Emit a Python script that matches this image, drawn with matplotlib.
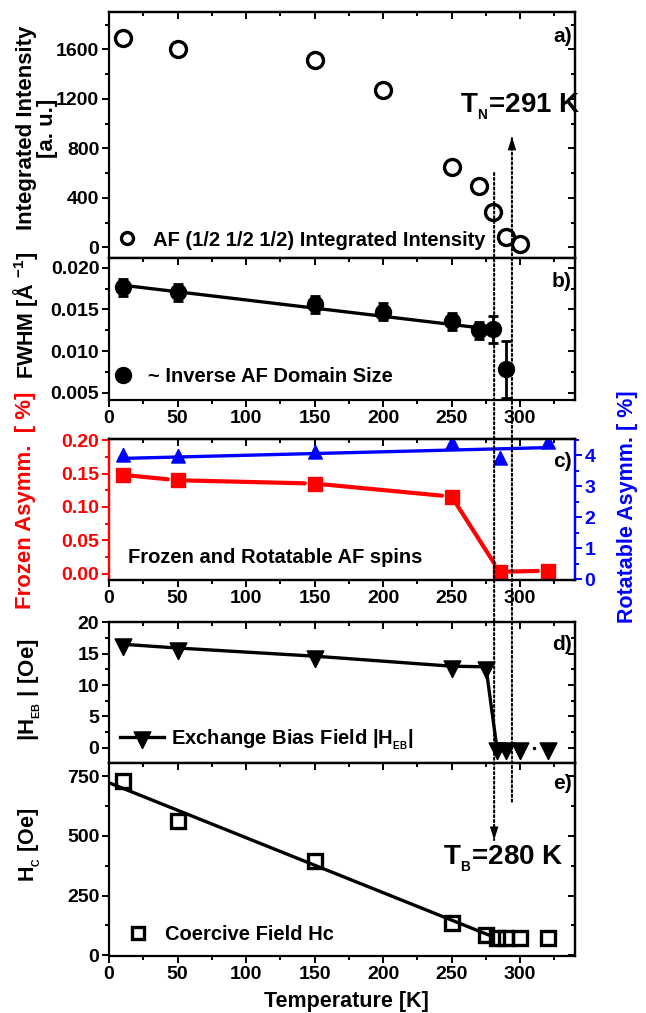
import numpy as np
import matplotlib
matplotlib.use("Agg")
import matplotlib.pyplot as plt
from matplotlib.patches import ConnectionPatch
from matplotlib.ticker import MultipleLocator, FormatStrFormatter

plt.rcParams['font.family'] = ['Liberation Sans', 'DejaVu Sans']
plt.rcParams['font.weight'] = 'bold'
plt.rcParams['axes.labelweight'] = 'bold'
plt.rcParams['mathtext.fontset'] = 'custom'
plt.rcParams['mathtext.rm'] = 'Liberation Sans:bold'
plt.rcParams['mathtext.bf'] = 'Liberation Sans:bold'
plt.rcParams['mathtext.default'] = 'bf'

# ---- data ----
# a) AF (1/2 1/2 1/2) integrated intensity
T_int = [10, 50, 150, 200, 250, 270, 280, 290, 300]
intensity = [1690, 1605, 1515, 1270, 648, 495, 288, 82, 30]

# b) FWHM ~ inverse AF domain size
T_fwhm = [10, 50, 150, 200, 250, 270, 280, 290]
fwhm = [0.01765, 0.01705, 0.01562, 0.01472, 0.01358, 0.01250, 0.01260, 0.00780]
fwhm_err = [0.0010, 0.0010, 0.0010, 0.0010, 0.0010, 0.0010, 0.00165, 0.0034]
T_fwhm_fit = [10, 280]
fwhm_fit = [0.0179, 0.0126]

# c) frozen / rotatable asymmetry
T_asym = [10, 50, 150, 250, 285, 320]
frozen = [0.148, 0.140, 0.135, 0.1155, 0.003, 0.0045]
rotatable = [3.93, 3.90, 4.05, 4.33, 3.83, 4.35]
T_rot_fit = [8, 320]
rot_fit = [3.89, 4.24]

# d) exchange bias field
T_heb = [10, 50, 150, 250, 275, 283, 290, 300, 320]
heb = [16.5, 15.9, 14.6, 13.0, 12.9, 0, 0, 0, 0]
T_heb_dot = [310]
heb_dot = [0]

# e) coercive field
T_hc = [10, 50, 150, 250, 275, 283, 290, 300, 320]
hc = [728, 560, 395, 134, 85, 72, 72, 72, 72]
T_hc_fit = [0, 280]
hc_fit = [722, 78]

# transition markers
T_B_line = 281
T_N_line = 294

# triangles with the centroid on the data point (Origin style)
tri_down = [(0, -4 / 3), (-1, 2 / 3), (1, 2 / 3), (0, -4 / 3)]
tri_up = [(0, 4 / 3), (-1, -2 / 3), (1, -2 / 3), (0, 4 / 3)]

FS = 14      # tick labels
FS_T = 14.5  # in-panel texts / legends
FS_L = 15.5  # axis labels
fig = plt.figure(figsize=(6.46, 10.13), dpi=100)
L, W = 0.1687, 0.7214
ax_a = fig.add_axes([L, 0.7450, W, 0.2428])
ax_b = fig.add_axes([L, 0.6051, W, 0.1399])
ax_c = fig.add_axes([L, 0.4274, W, 0.1389])
ax_d = fig.add_axes([L, 0.2471, W, 0.1392])
ax_e = fig.add_axes([L, 0.0563, W, 0.1908])


def style(ax, ymaj, ymin, xlabels=True, right=True):
    ax.set_xlim(0, 340)
    ax.xaxis.set_major_locator(MultipleLocator(50))
    ax.xaxis.set_minor_locator(MultipleLocator(25))
    ax.yaxis.set_major_locator(MultipleLocator(ymaj))
    ax.yaxis.set_minor_locator(MultipleLocator(ymin))
    for s in ax.spines.values():
        s.set_linewidth(1.6)
    ax.tick_params(which='both', direction='out', width=1.4, labelsize=FS,
                   top=False, right=False, labelbottom=xlabels, pad=2)
    ax.tick_params(which='major', length=5)
    ax.tick_params(which='minor', length=3)
    # mirrored ticks pointing inwards
    sx = ax.secondary_xaxis('top')
    sx.xaxis.set_major_locator(MultipleLocator(50))
    sx.xaxis.set_minor_locator(MultipleLocator(25))
    sx.tick_params(which='both', direction='in', labeltop=False, width=1.4)
    sx.tick_params(which='major', length=5)
    sx.tick_params(which='minor', length=3)
    sx.spines['top'].set_linewidth(1.6)
    if right:
        sy = ax.secondary_yaxis('right')
        sy.yaxis.set_major_locator(MultipleLocator(ymaj))
        sy.yaxis.set_minor_locator(MultipleLocator(ymin))
        sy.tick_params(which='both', direction='in', labelright=False, width=1.4)
        sy.tick_params(which='major', length=5)
        sy.tick_params(which='minor', length=3)
        sy.spines['right'].set_linewidth(1.6)


leg_prop = {'weight': 'bold', 'size': FS_T}

# ---- a) ----
ax_a.plot(T_int, intensity, 'o', mfc='none', mec='k', ms=11.5, mew=2.4,
          label='AF (1/2 1/2 1/2) Integrated Intensity')
ax_a.set_ylim(-89, 1899)
style(ax_a, 400, 200, xlabels=False)
ax_a.legend(loc='center left', bbox_to_anchor=(0.017, 0.0744), frameon=False,
            prop=leg_prop, handlelength=1, handletextpad=0.8, borderpad=0,
            borderaxespad=0, markerscale=0.75, numpoints=1)
ax_a.text(0.993, 0.90, 'a)', transform=ax_a.transAxes, ha='right', va='center', fontsize=15)
ax_a.text(0.753, 0.616, 'T$_{{}_N}$=291 K', transform=ax_a.transAxes, ha='left', va='center',
          fontsize=20)

# ---- b) ----
ax_b.plot(T_fwhm_fit, fwhm_fit, '-', color='k', lw=2.4)
ax_b.errorbar(T_fwhm, fwhm, yerr=fwhm_err, fmt='none', ecolor='k', elinewidth=2,
              capsize=3.5, capthick=2)
ax_b.plot(T_fwhm, fwhm, 'o', color='k', ms=11.5, label='~ Inverse AF Domain Size')
ax_b.set_ylim(0.00412, 0.02113)
style(ax_b, 0.005, 0.0025)
ax_b.yaxis.set_major_formatter(FormatStrFormatter('%.3f'))
ax_b.legend(loc='center left', bbox_to_anchor=(0.009, 0.169), frameon=False,
            prop=leg_prop, handlelength=1, handletextpad=0.75, borderpad=0,
            borderaxespad=0, numpoints=1)
ax_b.text(0.993, 0.835, 'b)', transform=ax_b.transAxes, ha='right', va='center', fontsize=15)

# ---- c) ----
ax_c2 = ax_c.twinx()
for i in range(len(T_asym) - 1):
    ax_c.annotate('', xy=(T_asym[i + 1], frozen[i + 1]), xytext=(T_asym[i], frozen[i]),
                  arrowprops=dict(arrowstyle='-', color='red', lw=3, shrinkA=7, shrinkB=7))
ax_c.plot(T_asym, frozen, 's', color='red', ms=10.5)
ax_c.set_ylim(-0.0094, 0.2012)
style(ax_c, 0.05, 0.025, right=False)
ax_c.yaxis.set_major_formatter(FormatStrFormatter('%.2f'))
ax_c.tick_params(axis='y', which='both', colors='red', labelcolor='red')
ax_c.spines['left'].set_color('red')

ax_c2.plot(T_rot_fit, rot_fit, '-', color='blue', lw=2.4)
ax_c2.plot(T_asym, rotatable, marker=tri_up, ls='none', color='blue', ms=13)
ax_c2.set_ylim(-0.023, 4.506)
ax_c2.yaxis.set_major_locator(MultipleLocator(1))
ax_c2.yaxis.set_minor_locator(MultipleLocator(0.5))
ax_c2.tick_params(axis='y', which='both', direction='out', colors='blue', labelcolor='blue',
                  labelsize=FS, width=1.4, pad=2)
ax_c2.tick_params(axis='y', which='major', length=5)
ax_c2.tick_params(axis='y', which='minor', length=3)
for s in ax_c2.spines.values():
    s.set_linewidth(1.6)
ax_c2.spines['right'].set_color('blue')
ax_c2.spines['left'].set_color('red')
ax_c.text(0.041, 0.1585, 'Frozen and Rotatable AF spins', transform=ax_c.transAxes,
          ha='left', va='center', fontsize=FS_T)
ax_c.text(0.993, 0.84, 'c)', transform=ax_c.transAxes, ha='right', va='center', fontsize=15)

# ---- d) ----
ax_d.plot(T_heb[:6], heb[:6], '-', color='k', lw=2.4)
ax_d.plot(T_heb, heb, marker=tri_down, ls='none', color='k', ms=16)
ax_d.plot(T_heb_dot, heb_dot, '.', color='k', ms=3)
ax_d.plot([], [], marker=tri_down, ls='-', lw=2.4, color='k', ms=16,
          label='Exchange Bias Field |H$_{{}_{EB}}$|')
ax_d.set_ylim(-2.39, 20.1)
style(ax_d, 5, 2.5, xlabels=False)
ax_d.legend(loc='center left', bbox_to_anchor=(0.0236, 0.166), frameon=False,
            prop=leg_prop, handlelength=2.2, handletextpad=0.35, borderpad=0,
            borderaxespad=0, numpoints=1)
ax_d.text(0.993, 0.835, 'd)', transform=ax_d.transAxes, ha='right', va='center', fontsize=15)

# ---- e) ----
ax_e.plot(T_hc_fit, hc_fit, '-', color='k', lw=2.4)
ax_e.plot(T_hc, hc, 's', mfc='none', mec='k', ms=10, mew=2.4, label='Coercive Field Hc')
ax_e.set_ylim(-3, 806)
style(ax_e, 250, 125)
ax_e.legend(loc='center left', bbox_to_anchor=(0.040, 0.112), frameon=False,
            prop=leg_prop, handlelength=1, handletextpad=0.85, borderpad=0,
            borderaxespad=0, markerscale=0.85, numpoints=1)
ax_e.text(0.993, 0.893, 'e)', transform=ax_e.transAxes, ha='right', va='center', fontsize=15)
ax_e.text(0.717, 0.505, 'T$_{{}_B}$=280 K', transform=ax_e.transAxes, ha='left', va='center',
          fontsize=20)

# ---- axis labels ----
def ftext(xp, yp, s, size=FS_L, **kw):
    fig.text(xp / 646, 1 - yp / 1013, s, ha='center', va='center', fontsize=size, **kw)

ftext(37, 128, 'Integrated Intensity\n[a. u.]', size=16, rotation=90,
      multialignment='center', linespacing=1.0)
ftext(26, 315, 'FWHM [Å $^{-1}$]', rotation=90)
ftext(26, 500, 'Frozen Asymm.  [ %]', size=16, rotation=90, color='red')
ftext(627, 507, 'Rotatable Asymm. [ %]', rotation=90, color='blue')
ftext(30, 690, '|H$_{{}_{EB}}$ | [Oe]', size=16, rotation=90)
ftext(30, 845, 'H$_{{}_C}$ [Oe]', rotation=90)
ftext(346, 1001, 'Temperature [K]')

# ---- dotted guide lines across panels ----
dot = (0, (1, 1.3))
cp1 = ConnectionPatch(xyA=(T_B_line, 600), coordsA=ax_a.transData,
                      xyB=(T_B_line, 482), coordsB=ax_e.transData,
                      arrowstyle='-', linestyle=dot, lw=1.5, color='k')
fig.add_artist(cp1)
cp2 = ConnectionPatch(xyA=(T_N_line, 643), coordsA=ax_e.transData,
                      xyB=(T_N_line, 894), coordsB=ax_a.transData,
                      arrowstyle='-', linestyle=dot, lw=1.5, color='k')
fig.add_artist(cp2)
ax_e.annotate('', xy=(T_B_line, 482), xytext=(T_B_line, 560), annotation_clip=False,
              arrowprops=dict(arrowstyle='-|>,head_length=0.7,head_width=0.22', lw=0,
                              color='k', mutation_scale=14, shrinkA=0, shrinkB=0))
ax_a.annotate('', xy=(T_N_line, 894), xytext=(T_N_line, 750), annotation_clip=False,
              arrowprops=dict(arrowstyle='-|>,head_length=0.7,head_width=0.22', lw=0,
                              color='k', mutation_scale=14, shrinkA=0, shrinkB=0))

fig.savefig('out.png', dpi=100)
